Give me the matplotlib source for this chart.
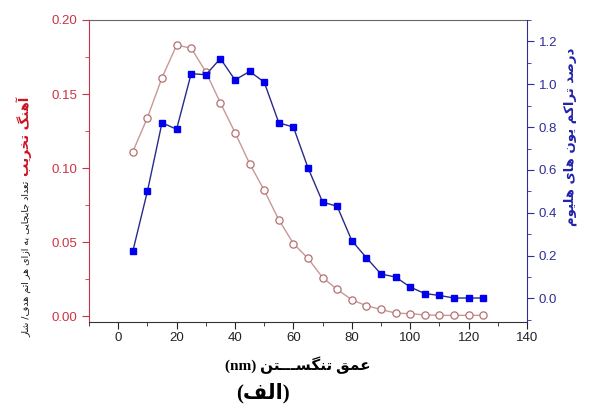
import matplotlib
matplotlib.use("Agg")
import matplotlib.pyplot as plt
from matplotlib.ticker import MultipleLocator

plt.rcParams['font.family'] = ['Liberation Sans', 'DejaVu Sans']

# depth (nm)
depth = [5, 10, 15, 20, 25, 30, 35, 40, 45, 50, 55, 60, 65,
         70, 75, 80, 85, 90, 95, 100, 105, 110, 115, 120, 125]
# damage rate (left axis)
damage = [0.111, 0.134, 0.161, 0.183, 0.181, 0.165, 0.144, 0.124, 0.103,
          0.085, 0.065, 0.049, 0.039, 0.026, 0.018, 0.011, 0.007, 0.0045,
          0.002, 0.0016, 0.0008, 0.0005, 0.0005, 0.0005, 0.0005]
# helium concentration (right axis)
helium = [0.22, 0.50, 0.82, 0.79, 1.05, 1.044, 1.12, 1.02, 1.06, 1.01,
          0.82, 0.80, 0.61, 0.45, 0.43, 0.27, 0.19, 0.114, 0.10, 0.053,
          0.023, 0.014, 0.002, 0.002, 0.002]

xlabel_fa = "عمق تنگســـتن"
ylabel_red = "آهنگ تخریب"
ylabel_black = "تعداد جابجایی به ازای هر اتم هدف/ شار"
ylabel_right = "درصد تراکم یون های هلیوم"
panel = "الف"

# matplotlib has no arabic shaping, so pick presentation forms by hand
# (isolated, final, initial, medial)
FORMS = {
    'ا': ('\uFE8D', '\uFE8E', None, None),
    'آ': ('\uFE81', '\uFE82', None, None),
    'ب': ('\uFE8F', '\uFE90', '\uFE91', '\uFE92'),
    'ت': ('\uFE95', '\uFE96', '\uFE97', '\uFE98'),
    'ج': ('\uFE9D', '\uFE9E', '\uFE9F', '\uFEA0'),
    'خ': ('\uFEA5', '\uFEA6', '\uFEA7', '\uFEA8'),
    'د': ('\uFEA9', '\uFEAA', None, None),
    'ر': ('\uFEAD', '\uFEAE', None, None),
    'ز': ('\uFEAF', '\uFEB0', None, None),
    'س': ('\uFEB1', '\uFEB2', '\uFEB3', '\uFEB4'),
    'ش': ('\uFEB5', '\uFEB6', '\uFEB7', '\uFEB8'),
    'ص': ('\uFEB9', '\uFEBA', '\uFEBB', '\uFEBC'),
    'ع': ('\uFEC9', '\uFECA', '\uFECB', '\uFECC'),
    'ف': ('\uFED1', '\uFED2', '\uFED3', '\uFED4'),
    'ق': ('\uFED5', '\uFED6', '\uFED7', '\uFED8'),
    'ل': ('\uFEDD', '\uFEDE', '\uFEDF', '\uFEE0'),
    'م': ('\uFEE1', '\uFEE2', '\uFEE3', '\uFEE4'),
    'ن': ('\uFEE5', '\uFEE6', '\uFEE7', '\uFEE8'),
    'ه': ('\uFEE9', '\uFEEA', '\uFEEB', '\uFEEC'),
    'و': ('\uFEED', '\uFEEE', None, None),
    'ی': ('\uFBFC', '\uFBFD', '\uFBFE', '\uFBFF'),
    'ک': ('\uFB8E', '\uFB8F', '\uFB90', '\uFB91'),
    'گ': ('\uFB92', '\uFB93', '\uFB94', '\uFB95'),
    'ـ': ('\u0640', '\u0640', '\u0640', '\u0640'),
}


def rtl(text):
    out = []
    for i, c in enumerate(text):
        if c not in FORMS:
            out.append(c)
            continue
        prev = text[i - 1] if i > 0 else None
        nxt = text[i + 1] if i + 1 < len(text) else None
        jp = prev in FORMS and FORMS[prev][2] is not None
        jn = FORMS[c][2] is not None and nxt in FORMS
        iso, fin, ini, med = FORMS[c]
        if jp and jn:
            out.append(med)
        elif jp:
            out.append(fin)
        elif jn:
            out.append(ini)
        else:
            out.append(iso)
    return ''.join(out)[::-1]


red = '#cc3344'
blue = '#2e2e9a'
serif_ar = ['Liberation Serif', 'DejaVu Sans']

fig = plt.figure(figsize=(5.89, 4.07), dpi=100)
ax = fig.add_axes([89 / 589, 1 - 322 / 407, 438 / 589, 302 / 407])
ax2 = ax.twinx()

ax.plot(depth, damage, '-o', color='#c89898', lw=1.0, ms=5.2,
        mfc='white', mec='#b57070', mew=0.9, zorder=3)
ax2.plot(depth, helium, '-s', color='#2a2a88', lw=1.0, ms=4.6,
         mfc='#0000ee', mec='#0000ee', zorder=3)

ax.set_xlim(-10, 140)
ax.set_ylim(-0.004, 0.20)
ax2.set_ylim(-0.11, 1.30)

ax.xaxis.set_major_locator(MultipleLocator(20))
ax.xaxis.set_minor_locator(MultipleLocator(10))
ax.yaxis.set_major_locator(MultipleLocator(0.05))
ax.yaxis.set_minor_locator(MultipleLocator(0.025))
ax2.yaxis.set_major_locator(MultipleLocator(0.2))
ax2.yaxis.set_minor_locator(MultipleLocator(0.1))
ax.yaxis.set_major_formatter(plt.FormatStrFormatter('%.2f'))
ax2.yaxis.set_major_formatter(plt.FormatStrFormatter('%.1f'))

ax.tick_params(axis='x', which='major', direction='out', length=5,
               labelsize=9.5, colors='#222222', pad=2.5)
ax.tick_params(axis='x', which='minor', direction='out', length=3,
               color='#222222')
ax.tick_params(axis='y', which='major', direction='out', length=5,
               labelsize=9.5, colors=red)
ax.tick_params(axis='y', which='minor', direction='out', length=3,
               colors=red)
ax2.tick_params(axis='y', which='major', direction='out', length=5,
                labelsize=9.5, colors=blue)
ax2.tick_params(axis='y', which='minor', direction='out', length=3,
                colors=blue)

ax.spines['left'].set_color(red)
ax.spines['top'].set_color('#666666')
ax.spines['bottom'].set_color('#333333')
ax.spines['right'].set_visible(False)
ax2.spines['right'].set_color(blue)
for s in ('left', 'top', 'bottom'):
    ax2.spines[s].set_visible(False)

# labels
fig.text(298 / 589, 1 - 365 / 407, "(nm) " + rtl(xlabel_fa),
         ha='center', va='center', fontsize=11, fontweight='bold',
         family=serif_ar)
fig.text(263 / 589, 1 - 393 / 407, "(" + rtl(panel) + ")",
         ha='center', va='center', fontsize=15, fontweight='bold',
         family=serif_ar)
fig.text(24 / 589, 1 - 97 / 407, rtl(ylabel_red), rotation=90,
         ha='center', va='top', fontsize=9.5, fontweight='bold',
         color='#cc1122', family=['DejaVu Sans'])
fig.text(27 / 589, 1 - 337 / 407, rtl(ylabel_black), rotation=90,
         ha='center', va='bottom', fontsize=6.8, color='#111111',
         family=['DejaVu Sans'])
fig.text(570 / 589, 1 - 137 / 407, rtl(ylabel_right), rotation=90,
         ha='center', va='center', fontsize=9.5, fontweight='bold',
         color='#2222aa', family=['DejaVu Sans'])

fig.savefig('out.png', dpi=100)
